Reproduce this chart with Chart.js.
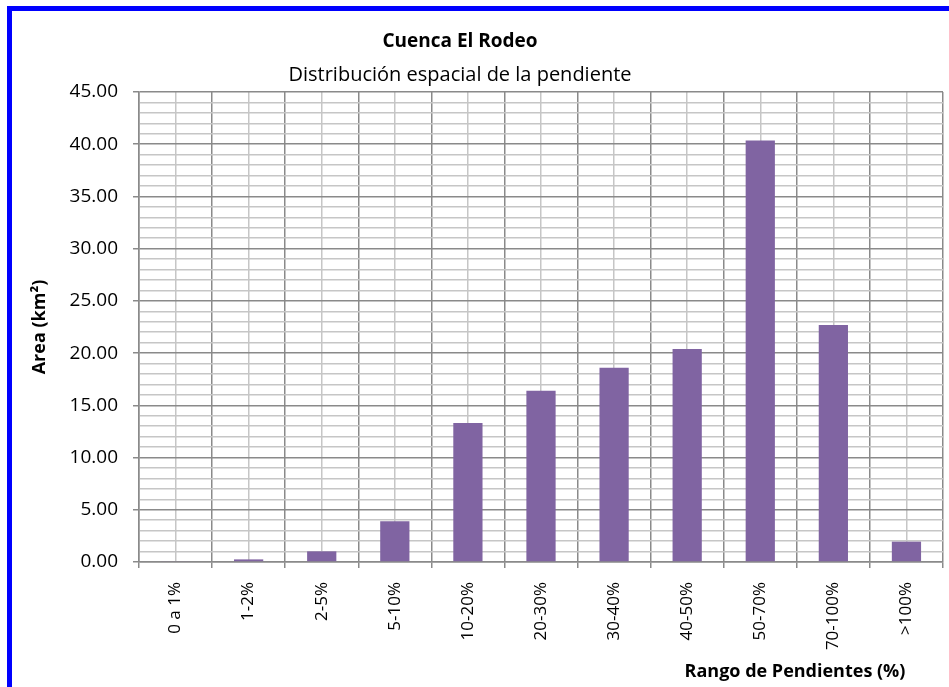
<!DOCTYPE html>
<html>
<head>
<meta charset="utf-8">
<title>Cuenca El Rodeo</title>
<script src="https://cdn.jsdelivr.net/npm/chart.js@4/dist/chart.umd.min.js"></script>
<style>
  html, body { margin: 0; padding: 0; background: #fff; overflow: hidden; }
  #frame {
    position: absolute; left: 7px; top: 6px; width: 960px; height: 700px;
    border-left: 5px solid #0000ff; border-top: 5px solid #0000ff;
  }
  #chart { position: absolute; left: 0; top: 0; }
</style>
</head>
<body>
<div id="frame"></div>
<canvas id="chart" width="949" height="687"></canvas>
<script>
// Slope classes of the basin and the area (km²) covered by each one
const slopeClasses = ['0 a 1%', '1-2%', '2-5%', '5-10%', '10-20%', '20-30%', '30-40%', '40-50%', '50-70%', '70-100%', '>100%'];
const areaKm2 = [0.08, 0.25, 1.02, 3.9, 13.3, 16.4, 18.6, 20.4, 40.35, 22.7, 1.95];

// Value axis: 0–45, labelled every 5, minor grid every 1
const yMin = 0;
const yMax = 45;
const yMajorStep = 5;
const yMinorStep = 1;

const chartTitle = 'Cuenca El Rodeo';
const chartSubtitle = 'Distribución espacial de la pendiente';
const yAxisTitle = 'Area (km²)';
const xAxisTitle = 'Rango de Pendientes (%)';

const FONT = '"Open Sans", "Liberation Sans", sans-serif';
const MAJOR_GRID = '#8a8a8a';
const MINOR_GRID = '#c6c6c6';
const BAR_COLOR = '#8064a2';

Chart.defaults.font.family = FONT;
Chart.defaults.color = '#000';

// Titles placed freely around the plot
const textLayer = {
  id: 'textLayer',
  afterDraw(chart) {
    const ctx = chart.ctx;
    ctx.save();
    ctx.fillStyle = '#000';
    ctx.textBaseline = 'alphabetic';
    ctx.textAlign = 'center';
    ctx.font = 'bold 19px ' + FONT;
    ctx.fillText(chartTitle, 460, 47);
    ctx.font = '20px ' + FONT;
    ctx.fillText(chartSubtitle, 460, 81);

    ctx.font = 'bold 18px ' + FONT;
    ctx.fillText(xAxisTitle, 795, 677);

    const area = chart.chartArea;
    ctx.translate(45, (area.top + area.bottom) / 2);
    ctx.rotate(-Math.PI / 2);
    ctx.fillText(yAxisTitle, 0, 0);
    ctx.restore();
  }
};

const isMajor = (v) => Math.abs(v / yMajorStep - Math.round(v / yMajorStep)) < 1e-9;

new Chart(document.getElementById('chart'), {
  type: 'bar',
  data: {
    labels: slopeClasses,
    datasets: [{
      label: yAxisTitle,
      data: areaKm2,
      backgroundColor: BAR_COLOR,
      borderWidth: 0,
      barPercentage: 0.4,
      categoryPercentage: 1.0,
      xAxisID: 'x'
    }]
  },
  options: {
    responsive: false,
    devicePixelRatio: 1,
    animation: false,
    layout: { padding: { top: 92, right: 6, bottom: 0, left: 0 } },
    plugins: {
      legend: { display: false },
      tooltip: { enabled: false },
      title: { display: false }
    },
    scales: {
      x: {
        type: 'category',
        position: 'bottom',
        offset: true,
        grid: {
          offset: true,
          color: MAJOR_GRID,
          lineWidth: 1.5,
          tickColor: MAJOR_GRID,
          tickLength: 6
        },
        border: { color: MAJOR_GRID, width: 1.5 },
        ticks: {
          minRotation: 90,
          maxRotation: 90,
          autoSkip: false,
          padding: 14,
          font: { size: 17 },
          color: '#000'
        },
        afterFit(scale) { scale.height = 125; }
      },
      xMinor: {
        type: 'category',
        position: 'bottom',
        labels: slopeClasses,
        offset: true,
        grid: { offset: false, color: MINOR_GRID, lineWidth: 1.5, drawTicks: false },
        border: { display: false },
        ticks: { display: false },
        afterFit(scale) { scale.height = 0; }
      },
      y: {
        type: 'linear',
        min: yMin,
        max: yMax,
        grid: {
          color: (c) => isMajor(c.tick.value) ? MAJOR_GRID : MINOR_GRID,
          tickColor: (c) => isMajor(c.tick.value) ? MAJOR_GRID : 'rgba(0,0,0,0)',
          lineWidth: 1.5,
          tickLength: 6
        },
        border: { color: MAJOR_GRID, width: 1.5 },
        ticks: {
          stepSize: yMinorStep,
          autoSkip: false,
          maxTicksLimit: 100,
          padding: 15,
          font: { size: 19 },
          color: '#000',
          callback: (v) => isMajor(v) ? v.toFixed(2) : ''
        },
        afterFit(scale) { scale.width = 139; }
      }
    }
  },
  plugins: [textLayer]
});
</script>
</body>
</html>
